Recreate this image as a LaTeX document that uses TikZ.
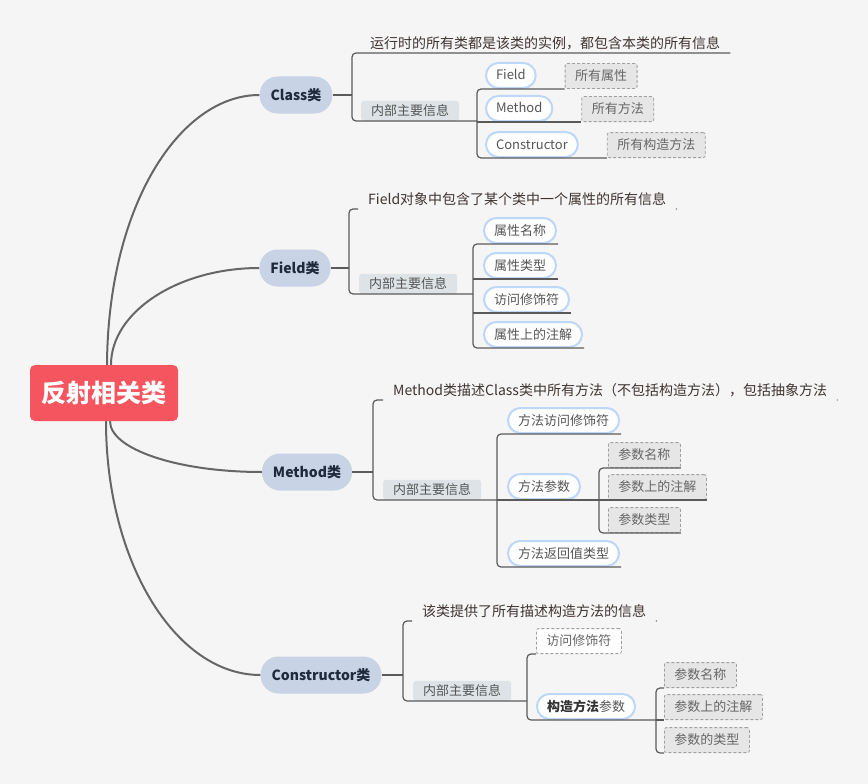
\documentclass[tikz,border=0pt]{standalone}
\usepackage{fontspec}
\setmainfont{Noto Sans CJK SC}
\usepackage{xcolor}
\usepackage{tikz}
\usetikzlibrary{positioning, calc}

\definecolor{bgc}{HTML}{F5F5F5}
\definecolor{rootc}{HTML}{F5555F}
\definecolor{topc}{HTML}{C8D3E6}
\definecolor{topt}{HTML}{1F2A3C}
\definecolor{linec}{HTML}{5A5A5A}
\definecolor{curvec}{HTML}{666666}
\definecolor{pillc}{HTML}{BDD7F8}
\definecolor{infoc}{HTML}{DDE3E6}
\definecolor{boxc}{HTML}{E6E6E6}
\definecolor{boxd}{HTML}{A0A0A0}
\definecolor{descc}{HTML}{3F3430}
\definecolor{txtc}{HTML}{555555}
\definecolor{tagt}{HTML}{666666}

\tikzset{
  rootbox/.style={fill=rootc, rounded corners=5pt, minimum width=148pt,
    minimum height=56pt, text=white, font=\bfseries\fontsize{25}{30}\selectfont},
  topic/.style={fill=topc, rounded corners=18pt, minimum height=37pt,
    inner xsep=11pt, text=topt, font=\bfseries\fontsize{14}{17}\selectfont},
  desc/.style={anchor=south west, inner xsep=10pt, inner ysep=3pt,
    text=descc, font=\fontsize{14}{17}\selectfont},
  info/.style={anchor=south west, fill=infoc, rounded corners=3pt,
    minimum height=20pt, inner xsep=10pt, inner ysep=0pt, text=txtc,
    text height=11pt, text depth=2pt, font=\fontsize{13}{15}\selectfont},
  pill/.style={anchor=south west, fill=white, draw=pillc, line width=2pt,
    rounded corners=12.5pt, minimum height=25pt, inner xsep=10pt, inner ysep=0pt,
    text=txtc, text height=11pt, text depth=2pt, font=\fontsize{13}{15}\selectfont},
  tagbox/.style={anchor=south west, fill=boxc, draw=boxd, dash pattern=on 3pt off 2pt,
    line width=0.8pt, rounded corners=2pt, minimum height=25pt, inner xsep=10pt,
    inner ysep=0pt, text=tagt, text height=11pt, text depth=2pt,
    font=\fontsize{13}{15}\selectfont},
  curve/.style={draw=curvec, line width=2pt},
  branch/.style={draw=linec, line width=1.2pt, rounded corners=4pt},
}

\begin{document}
\begin{tikzpicture}[x=1pt, y=-1pt]

  % 背景
  \fill[bgc] (0,0) rectangle (868,784);
  \useasboundingbox (0,0) rectangle (868,784);

  % 中心主题
  \node[rootbox] (root) at (104,393) {反射相关类};

  % 分支主题
  \node[topic] (cls) at (296,95) {Class类};
  \node[topic] (fld) at (295,268) {Field类};
  \node[topic] (mth) at (307,472) {Method类};
  \node[topic] (con) at (321,675) {Constructor类};

  % 曲线
  \draw[curve] ([xshift=3pt]root.north) .. controls (108,205) and (180,95) .. (cls.west);
  \draw[curve] ([xshift=7pt]root.north) .. controls (111,312) and (178,268) .. (fld.west);
  \draw[curve] ([xshift=6pt]root.south) .. controls (110,449) and (177,472) .. (mth.west);
  \draw[curve] ([xshift=2pt]root.south) .. controls (106,561) and (175,675) .. (con.west);

  % Class 分支
  \coordinate (cj) at (352,95);
  \coordinate (cs) at (477,121);
  \node[desc] (clsd) at (360,53) {运行时的所有类都是该类的实例，都包含本类的所有信息};
  \node[info] (clsi) at (361,121) {内部主要信息};
  \node[pill] (c1) at (485,89) {Field};
  \node[pill] (c2) at (485,122) {Method};
  \node[pill] (c3) at (485,158) {Constructor};
  \node[tagbox, right=28pt of c1.south east, anchor=south west] (c1b) {所有属性};
  \node[tagbox, right=28pt of c2.south east, anchor=south west] (c2b) {所有方法};
  \node[tagbox, right=28pt of c3.south east, anchor=south west] (c3b) {所有构造方法};
  \draw[branch, line width=1.5pt] (cls.east) -- (cj);
  \draw[branch] (clsd.south east) -| (cj) |- (clsi.south east) -- (cs);
  \draw[branch] (c1b.south west) -| (cs) |- (c3b.south west);
  \draw[branch] (cs |- c2.south) -- (c2b.south west);

  % Field 分支
  \coordinate (fj) at (349,268);
  \coordinate (fs) at (473,294);
  \node[desc] (fldd) at (358,209) {Field对象中包含了某个类中一个属性的所有信息};
  \node[info] (fldi) at (359,294) {内部主要信息};
  \node[pill] (f1) at (483,244) {属性名称};
  \node[pill] (f2) at (483,279) {属性类型};
  \node[pill] (f3) at (483,313) {访问修饰符};
  \node[pill] (f4) at (483,348) {属性上的注解};
  \draw[branch] (fld.east) -- (fj);
  \draw[branch] (fldd.south west) -| (fj) |- (fldi.south east) -- (fs);
  \fill[linec] (fldd.south east) circle (0.7pt);
  \draw[branch] ([xshift=1pt]f1.south east) -| (fs) |- ([xshift=1pt]f4.south east);
  \draw[branch] (fs |- f2.south) -- ([xshift=1pt]f2.south east);
  \draw[branch] (fs |- f3.south) -- ([xshift=1pt]f3.south east);

  % Method 分支
  \coordinate (mj) at (373,472);
  \coordinate (ms) at (497,500);
  \coordinate (mp) at (599,500);
  \node[desc] (mthd) at (383,400) {Method类描述Class类中所有方法（不包括构造方法），包括抽象方法};
  \node[info] (mthi) at (383,500) {内部主要信息};
  \node[pill] (m1) at (507,434) {方法访问修饰符};
  \node[pill] (m2) at (507,500) {方法参数};
  \node[pill] (m3) at (507,567) {方法返回值类型};
  \node[tagbox] (p1) at (608,468) {参数名称};
  \node[tagbox] (p2) at (608,500) {参数上的注解};
  \node[tagbox] (p3) at (608,533) {参数类型};
  \draw[branch] (mth.east) -- (mj);
  \draw[branch] (mthd.south west) -| (mj) |- (mthi.south east) -- (ms);
  \fill[linec] (mthd.south east) circle (0.7pt);
  \draw[branch] ([xshift=1pt]m1.south east) -| (ms) |- ([xshift=1pt]m3.south east);
  \draw[branch] (ms) -- (mp);
  \draw[branch] (p1.south east) -| (mp) |- (p3.south east);
  \draw[branch] (mp) -- (p2.south east);

  % Constructor 分支
  \coordinate (kj) at (403,675);
  \coordinate (ks) at (527,701);
  \coordinate (kp) at (656,720);
  \node[desc] (cond) at (412,621) {该类提供了所有描述构造方法的信息};
  \node[info] (coni) at (413,701) {内部主要信息};
  \node[tagbox, fill=white] (k1) at (536,654) {访问修饰符};
  \node[pill] (k2) at (536,720) {{\bfseries\color{black!80}构造方法}参数};
  \node[tagbox] (q1) at (664,688) {参数名称};
  \node[tagbox] (q2) at (664,720) {参数上的注解};
  \node[tagbox] (q3) at (664,753) {参数的类型};
  \draw[branch] (con.east) -- (kj);
  \draw[branch] (cond.south west) -| (kj) |- (coni.south east) -- (ks);
  \fill[linec] (cond.south east) circle (0.7pt);
  \draw[branch] (k1.south west) -| (ks) |- (k2.south east) -- (kp);
  \draw[branch] (q1.south west) -| (kp) |- (q3.south west);
  \draw[branch] (kp) -- (q2.south west);

\end{tikzpicture}
\end{document}
